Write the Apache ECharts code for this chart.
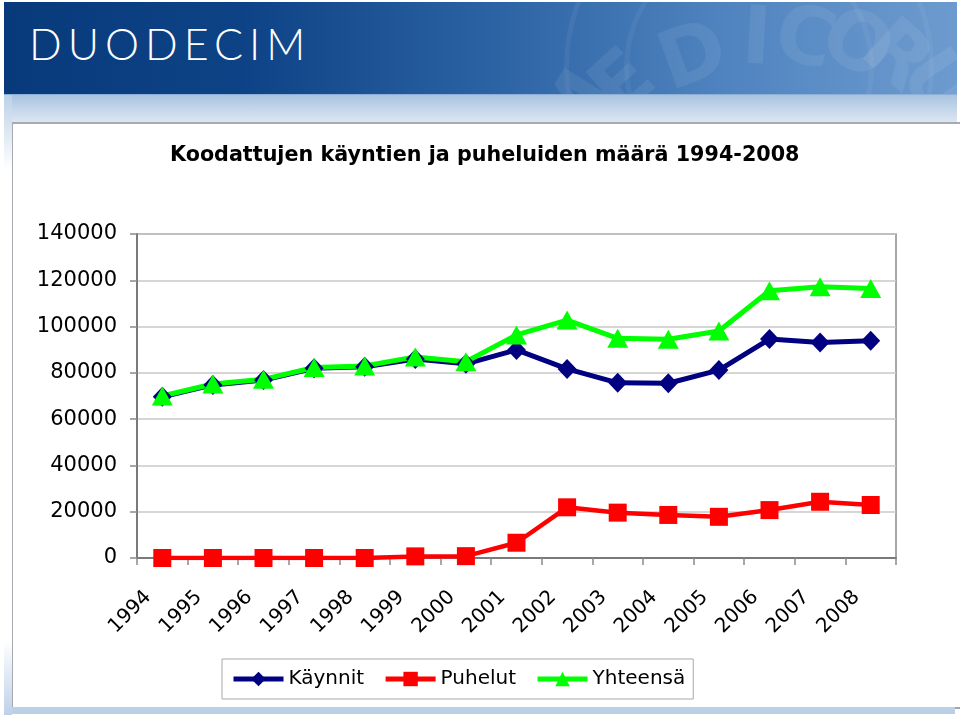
<!DOCTYPE html>
<html>
<head>
<meta charset="utf-8">
<script src="https://cdn.jsdelivr.net/npm/echarts@6.0.0/dist/echarts.min.js"></script>
<style>
  html, body { margin: 0; padding: 0; background: #fff; }
  #wrap { position: relative; width: 960px; height: 716px; overflow: hidden; background: #fff; }
  .abs { position: absolute; }
  #banner { left: 4px; top: 2px; width: 953px; height: 92px; overflow: hidden;
    background: linear-gradient(90deg, #083a7b 0%, #0d4386 25%, #2a61a2 50%, #4f83bf 75%, #6d9bcf 100%); }
  #bannerLine { left: 4px; top: 94px; width: 953px; height: 1px; background: #8fb0d6; }
  #logo { left: 25px; top: 14px; color: #fff; font-family: Lato, "Open Sans", sans-serif; font-weight: 300;
    font-size: 43px; letter-spacing: 6px; line-height: 56px; }
  .wm { position: absolute; color: rgba(255,255,255,0.07); font-family: "DejaVu Sans", sans-serif; font-weight: bold;
    font-size: 80px; line-height: 80px; transform-origin: 50% 50%; }
  .ring { position: absolute; border-radius: 50%; border: 5px solid rgba(255,255,255,0.05); }
  #band { left: 4px; top: 95px; width: 953px; height: 27px; background: linear-gradient(180deg, #a9c3df 0%, #c8d9ec 60%, #dbe6f2 100%); }
  #leftStrip { left: 4px; top: 95px; width: 8px; height: 620px;
    background: linear-gradient(180deg, #bcd1e8 0%, #ffffff 12%, #ffffff 88%, #bcd1e8 100%); }
  #panel { left: 12px; top: 122px; width: 950px; height: 583px; background: #fff;
    border-top: 2px solid #a7abb0; border-left: 1px solid #a7abb0; border-bottom: 2px solid #9ea6ae; }
  #bottomStrip { left: 12px; top: 707px; width: 943px; height: 7px; background: #bad0e7; }
  #chart { position: absolute; left: 0; top: 0; width: 960px; height: 716px; }
</style>
</head>
<body>
<div id="wrap">
  <div id="banner" class="abs">
    <div class="ring" style="left:560px; top:-120px; width:360px; height:360px;"></div>
    <div class="ring" style="left:620px; top:-60px; width:240px; height:240px;"></div>
    <span class="wm" style="left:530px; top:70px; transform: rotate(-58deg);">M</span>
    <span class="wm" style="left:590px; top:40px; transform: rotate(-42deg);">E</span>
    <span class="wm" style="left:655px; top:12px; transform: rotate(-20deg);">D</span>
    <span class="wm" style="left:738px; top:-6px; transform: rotate(3deg);">I</span>
    <span class="wm" style="left:772px; top:-6px; transform: rotate(16deg);">C</span>
    <span class="wm" style="left:820px; top:0px; transform: rotate(30deg);">O</span>
    <span class="wm" style="left:864px; top:12px; transform: rotate(42deg);">R</span>
    <span class="wm" style="left:902px; top:42px; transform: rotate(56deg);">U</span>
    <div id="logo" class="abs">DUODECIM</div>
  </div>
  <div id="bannerLine" class="abs"></div>
  <div id="band" class="abs"></div>
  <div id="leftStrip" class="abs"></div>
  <div id="panel" class="abs"></div>
  <div id="bottomStrip" class="abs"></div>
  <div id="chart"></div>
</div>
<script>
// ---- data ----
var years = ['1994','1995','1996','1997','1998','1999','2000','2001','2002','2003','2004','2005','2006','2007','2008'];
var kaynnit  = [69700, 74800, 76900, 82000, 82600, 86000, 83900, 89900, 81700, 75700, 75500, 81200, 94600, 93100, 93900];
var puhelut  = [0, 0, 0, 0, 0, 700, 800, 6600, 21900, 19600, 18600, 17800, 20700, 24300, 22900];
var yhteensa = [70000, 75200, 77200, 82300, 83000, 86900, 84800, 96400, 102800, 94900, 94500, 98100, 115500, 117200, 116500];
var seriesNames = ['Käynnit', 'Puhelut', 'Yhteensä'];
var titleText = 'Koodattujen käyntien ja puheluiden määrä 1994-2008';
var yMin = 0, yMax = 140000, yStep = 20000;

var FONT = '"DejaVu Sans", Verdana, sans-serif';
var chart = echarts.init(document.getElementById('chart'), null, { renderer: 'canvas' });

chart.setOption({
  backgroundColor: 'transparent',
  animation: false,
  title: {
    text: titleText,
    left: 170,
    top: 145,
    padding: 0,
    textStyle: { fontFamily: FONT, fontWeight: 'bold', fontSize: 20.7, color: '#000' }
  },
  legend: {
    left: 222,
    top: 659,
    orient: 'horizontal',
    padding: [10, 8, 10, 9],
    itemGap: 19,
    itemWidth: 50,
    itemHeight: 18,
    borderColor: '#a9a9a9',
    borderWidth: 1,
    backgroundColor: '#fff',
    lineStyle: { width: 5 },
    textStyle: { fontFamily: FONT, fontSize: 20, color: '#000', padding: [0, 0, 0, 0] },
    data: seriesNames
  },
  grid: {
    left: 137, right: 64, top: 234, bottom: 158,
    show: true, borderColor: '#8a8a8a', borderWidth: 1.5, backgroundColor: 'transparent',
    outerBoundsMode: 'none'
  },
  xAxis: {
    type: 'category',
    data: years,
    boundaryGap: true,
    axisLine: { show: true, lineStyle: { color: '#7a7a7a', width: 2 } },
    axisTick: { show: true, interval: 0, length: 7, inside: false, lineStyle: { color: '#8a8a8a', width: 1.5 } },
    splitLine: { show: false },
    axisLabel: {
      interval: 0, rotate: 45, margin: 22,
      fontFamily: FONT, fontSize: 20, color: '#000',
      padding: [0, 20, 0, 0]
    }
  },
  yAxis: {
    type: 'value',
    min: yMin, max: yMax, interval: yStep,
    axisLine: { show: true, lineStyle: { color: '#7a7a7a', width: 2 } },
    axisTick: { show: true, length: 7, lineStyle: { color: '#8a8a8a', width: 1.5 } },
    splitLine: { show: true, lineStyle: { color: '#c8c8c8', width: 1.5 } },
    axisLabel: {
      margin: 20, fontFamily: FONT, fontSize: 21, color: '#000',
      formatter: function (v) { return String(v); }
    }
  },
  series: [
    {
      name: seriesNames[0], type: 'line', data: kaynnit,
      symbol: 'diamond', symbolSize: [19, 20],
      lineStyle: { color: '#000080', width: 5 },
      itemStyle: { color: '#000080' }
    },
    {
      name: seriesNames[1], type: 'line', data: puhelut,
      symbol: 'rect', symbolSize: 18,
      lineStyle: { color: '#ff0000', width: 4.5 },
      itemStyle: { color: '#ff0000' }
    },
    {
      name: seriesNames[2], type: 'line', data: yhteensa,
      symbol: 'triangle', symbolSize: [21, 19],
      lineStyle: { color: '#00ff00', width: 5 },
      itemStyle: { color: '#00ff00' }
    }
  ]
});
</script>
</body>
</html>
